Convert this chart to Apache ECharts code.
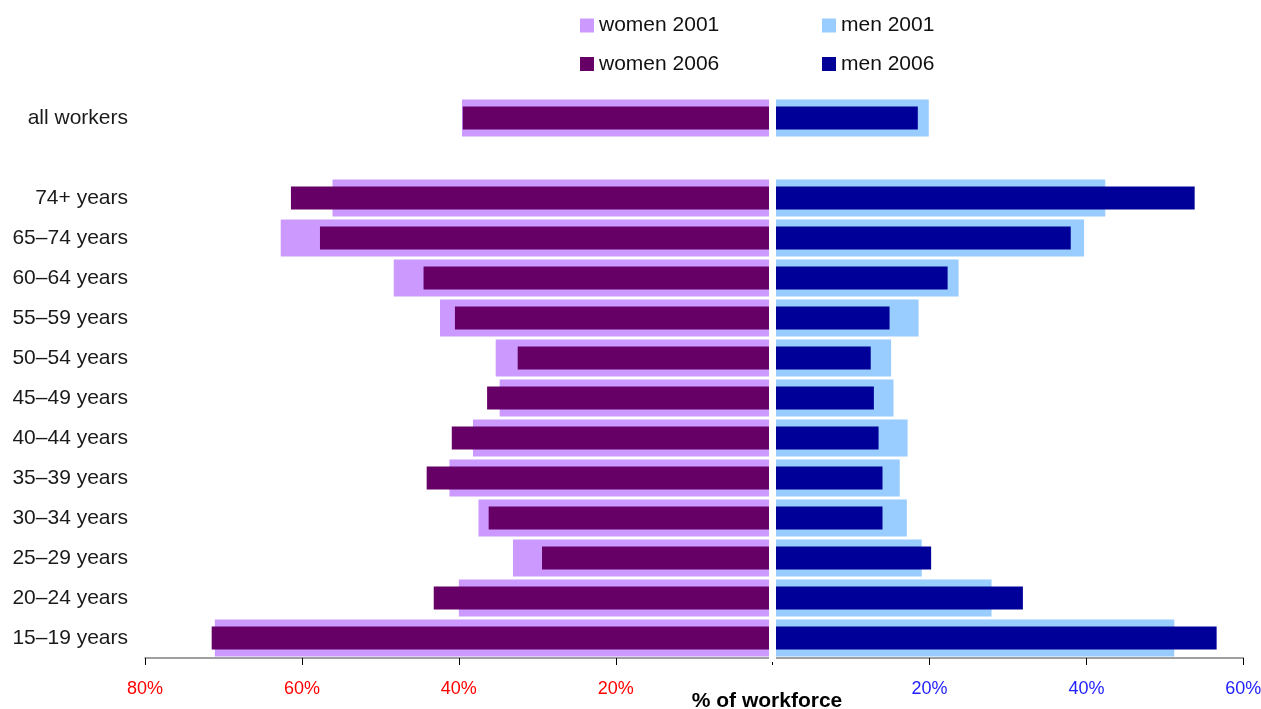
<!DOCTYPE html>
<html>
<head>
<meta charset="utf-8">
<script src="https://cdn.jsdelivr.net/npm/echarts@6/dist/echarts.min.js"></script>
<style>html,body{margin:0;padding:0;background:#fff;}#chart{width:1261px;height:709px;}</style>
</head>
<body>
<div id="chart"></div>
<script>
// ---- data ----
const categories = ['15–19 years','20–24 years','25–29 years','30–34 years','35–39 years','40–44 years','45–49 years','50–54 years','55–59 years','60–64 years','65–74 years','74+ years','','all workers'];
const women2001 = [71.1, 40.0, 33.1, 37.5, 41.2, 38.2, 34.8, 35.3, 42.4, 48.3, 62.7, 56.1, null, 39.6];
const women2006 = [71.5, 43.2, 29.4, 36.2, 44.1, 40.9, 36.4, 32.5, 40.5, 44.5, 57.7, 61.4, null, 39.5];
const men2001   = [51.2, 27.9, 19.0, 17.1, 16.2, 17.2, 15.4, 15.1, 18.6, 23.7, 39.7, 42.4, null, 19.9];
const men2006   = [56.6, 31.9, 20.2, 14.0, 14.0, 13.5, 12.9, 12.5, 14.9, 22.3, 38.0, 53.8, null, 18.5];
const womenTicks = {min: 0, max: 80, interval: 20};
const menTicks = {min: 0, max: 60, interval: 20};
const seriesNames = ['women 2001', 'women 2006', 'men 2001', 'men 2006'];

const colors = {'women 2001': '#cc99ff', 'women 2006': '#660066', 'men 2001': '#99ccff', 'men 2006': '#000099'};
const FONT = '"Liberation Sans", Arial, sans-serif';

const chart = echarts.init(document.getElementById('chart'), null, {renderer: 'canvas'});

function xAxisCfg(gridIndex, ticks, inverse, color) {
  return {
    type: 'value', gridIndex: gridIndex, min: ticks.min, max: ticks.max, interval: ticks.interval,
    inverse: inverse, position: 'bottom',
    axisLine: {show: true, onZero: false, lineStyle: {color: '#808080', width: 1.5}},
    axisTick: {show: true, length: 7, lineStyle: {color: '#000', width: 1}},
    splitLine: {show: false},
    axisLabel: {
      color: color, fontFamily: FONT, fontSize: 18, margin: 22,
      formatter: v => v === 0 ? '' : v + '%'
    }
  };
}
function yAxisCfg(gridIndex, showLabels) {
  return {
    type: 'category', gridIndex: gridIndex, data: categories,
    axisLine: {show: false}, axisTick: {show: false}, splitLine: {show: false},
    axisLabel: showLabels ? {show: true, color: '#1a1a1a', fontFamily: FONT, fontSize: 21, margin: 17} : {show: false}
  };
}

function legendCfg(name, left, top) {
  return {
    data: [name], left: left, top: top, orient: 'horizontal', padding: 0,
    itemWidth: 14, itemHeight: 14, icon: 'rect', selectedMode: false,
    textStyle: {color: '#111', fontFamily: FONT, fontSize: 21, lineHeight: 21}
  };
}

const option = {
  animation: false,
  backgroundColor: '#fff',
  legend: [
    legendCfg('women 2001', 580, 15),
    legendCfg('women 2006', 580, 53.5),
    legendCfg('men 2001', 822, 15),
    legendCfg('men 2006', 822, 53.5)
  ],
  grid: [
    {left: 145, right: 1261 - 772.7, top: 98, bottom: 51, containLabel: false, outerBoundsMode: 'none'},
    {left: 772.7, right: 17.7, top: 98, bottom: 51, containLabel: false, outerBoundsMode: 'none'}
  ],
  xAxis: [
    xAxisCfg(0, womenTicks, true, '#ff0000'),
    xAxisCfg(1, menTicks, false, '#2222ff')
  ],
  yAxis: [
    yAxisCfg(0, true),
    yAxisCfg(0, false),
    yAxisCfg(1, false),
    yAxisCfg(1, false)
  ],
  series: [
    {name: 'women 2001', type: 'bar', xAxisIndex: 0, yAxisIndex: 0, data: women2001, barWidth: 37, itemStyle: {color: colors['women 2001']}, z: 2},
    {name: 'women 2006', type: 'bar', xAxisIndex: 0, yAxisIndex: 1, data: women2006, barWidth: 23, itemStyle: {color: colors['women 2006']}, z: 3},
    {name: 'men 2001', type: 'bar', xAxisIndex: 1, yAxisIndex: 2, data: men2001, barWidth: 37, itemStyle: {color: colors['men 2001']}, z: 2},
    {name: 'men 2006', type: 'bar', xAxisIndex: 1, yAxisIndex: 3, data: men2006, barWidth: 23, itemStyle: {color: colors['men 2006']}, z: 3}
  ],
  graphic: [
    {type: 'rect', shape: {x: 769, y: 97, width: 7, height: 565}, style: {fill: '#fff'}, z: 100, silent: true},
    {type: 'text', x: 767, y: 701, z: 100, silent: true,
     style: {text: '% of workforce', fill: '#000', font: 'bold 21px ' + FONT, textAlign: 'center', textVerticalAlign: 'middle', verticalAlign: 'middle', align: 'center'}}
  ]
};
chart.setOption(option);
</script>
</body>
</html>
